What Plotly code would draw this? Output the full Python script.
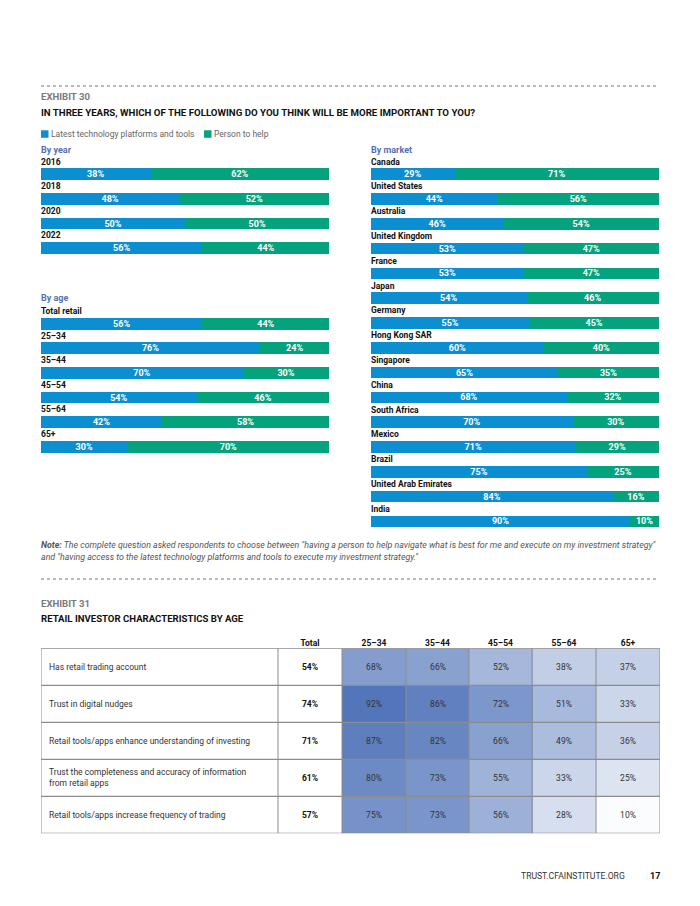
import plotly.graph_objects as go

# ---------------- data ----------------
SERIES = ["Latest technology platforms and tools", "Person to help"]

YEAR_CATS = ["2016", "2018", "2020", "2022"]
YEAR_TECH = [38, 48, 50, 56]
YEAR_PERSON = [62, 52, 50, 44]

AGE_CATS = ["Total retail", "25–34", "35–44", "45–54", "55–64", "65+"]
AGE_TECH = [56, 76, 70, 54, 42, 30]
AGE_PERSON = [44, 24, 30, 46, 58, 70]

MARKET_CATS = ["Canada", "United States", "Australia", "United Kingdom", "France",
               "Japan", "Germany", "Hong Kong SAR", "Singapore", "China",
               "South Africa", "Mexico", "Brazil", "United Arab Emirates", "India"]
MARKET_TECH = [29, 44, 46, 53, 53, 54, 55, 60, 65, 68, 70, 71, 75, 84, 90]
MARKET_PERSON = [71, 56, 54, 47, 47, 46, 45, 40, 35, 32, 30, 29, 25, 16, 10]

TABLE_ROWS = ["Has retail trading account",
              "Trust in digital nudges",
              "Retail tools/apps enhance understanding of investing",
              "Trust the completeness and accuracy of information<br>from retail apps",
              "Retail tools/apps increase frequency of trading"]
TABLE_HEADERS = ["Total", "25–34", "35–44", "45–54", "55–64", "65+"]
TABLE_TOTAL = [54, 74, 71, 61, 57]
TABLE_AGE = [[68, 66, 52, 38, 37],
             [92, 86, 72, 51, 33],
             [87, 82, 66, 49, 36],
             [80, 73, 55, 33, 25],
             [75, 73, 56, 28, 10]]

# ---------------- style ----------------
PAGE_MARGIN = 8            # browser body margin around the plot div
FW, FH = 684, 890          # figure size so that it fits the 700x906 window
BLUE = "#0b8fd1"
GREEN = "#05a37d"
HEAD_BLUE = "#5470b0"
FONT = "Roboto"
GRID = "#8c8c8c"


def px(x):
    return (x - PAGE_MARGIN) / FW


def py(y):
    return 1 - (y - PAGE_MARGIN) / FH


fig = go.Figure()

panels = [
    ("x", "y", YEAR_CATS, YEAR_TECH, YEAR_PERSON),
    ("x2", "y2", AGE_CATS, AGE_TECH, AGE_PERSON),
    ("x3", "y3", MARKET_CATS, MARKET_TECH, MARKET_PERSON),
]
for xa, ya, cats, tech, person in panels:
    for name, vals, col in [(SERIES[0], tech, BLUE), (SERIES[1], person, GREEN)]:
        fig.add_trace(go.Bar(
            x=vals, y=cats, orientation="h", name=name, marker_color=col,
            marker_line_width=0, width=0.475, xaxis=xa, yaxis=ya,
            text=[f"{v}%" for v in vals], textposition="inside",
            insidetextanchor="middle", textangle=0, constraintext="none",
            textfont=dict(family=FONT, size=9, color="white", weight="bold"),
            showlegend=False, hoverinfo="skip"))

# ---------------- table ----------------
COL_W = [237, 64, 64, 63, 63, 64, 64]
edges = [0]
for w in COL_W:
    edges.append(edges[-1] + w)
centers = [(edges[i] + edges[i + 1]) / 2 for i in range(len(COL_W))]
rows_idx = list(range(len(TABLE_ROWS)))

fig.add_trace(go.Heatmap(
    z=[[v] for v in TABLE_TOTAL], x=edges[1:3], y=rows_idx,
    colorscale=[[0, "white"], [1, "white"]], showscale=False,
    texttemplate="<b>%{z}%</b>", textfont=dict(family=FONT, size=8.5, color="#111"),
    xaxis="x4", yaxis="y4", hoverinfo="skip"))
fig.add_trace(go.Heatmap(
    z=TABLE_AGE, x=edges[2:], y=rows_idx,
    colorscale=[[0, "#ffffff"], [1, "#3f66b2"]], zmin=8, zmax=102, showscale=False,
    texttemplate="%{z}%", textfont=dict(family=FONT, size=8.5, color="#333"),
    xaxis="x4", yaxis="y4", hoverinfo="skip"))

shapes = []
for e in edges:
    shapes.append(dict(type="line", xref="x4", yref="y4", x0=e, x1=e, y0=-0.5, y1=4.5,
                       line=dict(color=GRID, width=1), layer="above"))
for i in range(len(TABLE_ROWS) + 1):
    shapes.append(dict(type="line", xref="x4", yref="y4", x0=0, x1=edges[-1],
                       y0=i - 0.5, y1=i - 0.5, line=dict(color=GRID, width=1.2),
                       layer="above"))
for yy in (86, 579):
    shapes.append(dict(type="line", xref="paper", yref="paper", x0=px(41), x1=px(658),
                       y0=py(yy), y1=py(yy), line=dict(color="#777", width=1, dash="dot")))

# legend swatches
for x0, col in [(41, BLUE), (204, GREEN)]:
    shapes.append(dict(type="rect", xref="paper", yref="paper", x0=px(x0), x1=px(x0 + 7.5),
                       y0=py(137.8), y1=py(130.3), fillcolor=col, line=dict(width=0)))

ann = []
for r, lab in zip(rows_idx, TABLE_ROWS):
    ann.append(dict(x=0, y=r, xref="x4", yref="y4", text=lab, showarrow=False,
                    xanchor="left", yanchor="middle", align="left", xshift=6,
                    font=dict(family=FONT, size=8.5, color="#333")))

for xa, ya, cats, *_ in panels:
    for i, c in enumerate(cats):
        ann.append(dict(x=0, y=i, xref=xa, yref=ya, text=f"<b>{c}</b>", showarrow=False,
                        xanchor="left", yanchor="middle", yshift=12.6, xshift=-2,
                        font=dict(family=FONT, size=8.5, color="#111")))


def txt(x, y, s, size, color, bold=False, anchor="left", italic=False):
    if bold:
        s = f"<b>{s}</b>"
    if italic:
        s = f"<i>{s}</i>"
    ann.append(dict(x=px(x), y=py(y), xref="paper", yref="paper", text=s, showarrow=False,
                    xanchor=anchor, yanchor="middle",
                    font=dict(family=FONT, size=size, color=color)))


txt(39, 97, "EXHIBIT 30", 9.6, "#7a7a7a", bold=True)
txt(39, 112, "IN THREE YEARS, WHICH OF THE FOLLOWING DO YOU THINK WILL BE MORE IMPORTANT TO YOU?",
    9.7, "#111", bold=True)
txt(49, 134, SERIES[0], 8.5, "#666")
txt(212, 134, SERIES[1], 8.5, "#666")
txt(39, 150, "By year", 9, HEAD_BLUE, bold=True)
txt(369, 150, "By market", 9, HEAD_BLUE, bold=True)
txt(39, 298, "By age", 9, HEAD_BLUE, bold=True)
txt(39, 545, "<b>Note:</b> The complete question asked respondents to choose between \"having a person to help navigate what is best for me and execute on my investment strategy\"",
    8.8, "#555", italic=True)
txt(39, 557, "and \"having access to the latest technology platforms and tools to execute my investment strategy.\"",
    8.8, "#555", italic=True)
txt(39, 603, "EXHIBIT 31", 9.6, "#7a7a7a", bold=True)
txt(39, 618, "RETAIL INVESTOR CHARACTERISTICS BY AGE", 9.6, "#111", bold=True)
txt(627, 876, "TRUST.CFAINSTITUTE.ORG", 8.6, "#333", anchor="right")
txt(648, 876, "17", 9, "#111", bold=True)

hidden = dict(visible=False, fixedrange=True)
fig.update_layout(
    width=FW, height=FH, autosize=False,
    margin=dict(l=0, r=0, t=0, b=0),
    paper_bgcolor="white", plot_bgcolor="white",
    barmode="stack", showlegend=False,
    xaxis=dict(domain=[px(41), px(329.3)], range=[0, 100], anchor="y", **hidden),
    yaxis=dict(domain=[py(162 + 4 * 24.6), py(162)], type="category",
               range=[3.5, -0.5], anchor="x", **hidden),
    xaxis2=dict(domain=[px(41), px(329.3)], range=[0, 100], anchor="y2", **hidden),
    yaxis2=dict(domain=[py(311.4 + 6 * 24.6), py(311.4)], type="category",
                range=[5.5, -0.5], anchor="x2", **hidden),
    xaxis3=dict(domain=[px(371), px(659)], range=[0, 100], anchor="y3", **hidden),
    yaxis3=dict(domain=[py(161.8 + 15 * 24.8), py(161.8)], type="category",
                range=[14.5, -0.5], anchor="x3", **hidden),
    xaxis4=dict(domain=[px(41), px(41 + edges[-1])], range=[0, edges[-1]], anchor="y4",
                side="top", tickvals=centers[1:], ticktext=TABLE_HEADERS,
                showgrid=False, zeroline=False, showline=False, ticks="",
                tickfont=dict(family=FONT, size=8.5, color="#111", weight="bold"),
                fixedrange=True),
    yaxis4=dict(domain=[py(833.3), py(648.3)], range=[4.5, -0.5], anchor="x4",
                **hidden),
    shapes=shapes, annotations=ann,
)

fig.write_html("out.html")
